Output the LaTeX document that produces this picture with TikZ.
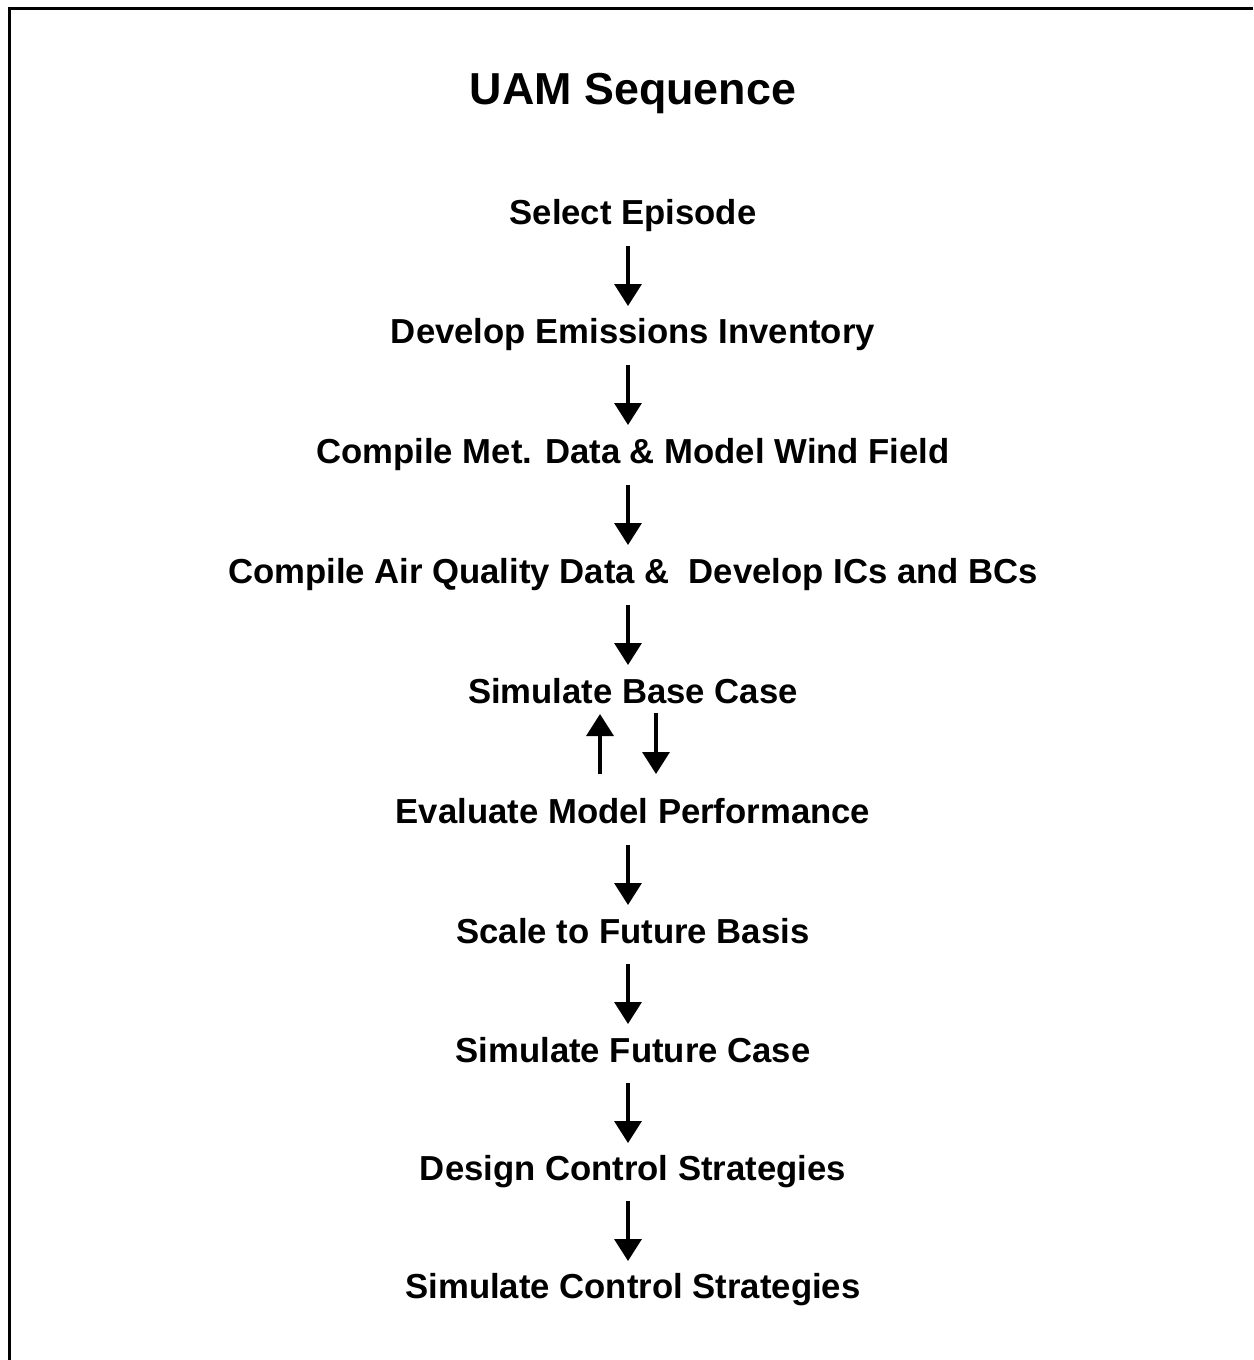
\documentclass[tikz,border=0pt]{standalone}
\usepackage{fontspec}
\setmainfont{Liberation Sans}
\usetikzlibrary{arrows.meta}
\begin{document}
\begin{tikzpicture}[x=1pt,y=-1pt,
  stepbox/.style={anchor=base,inner sep=0pt,font=\fontsize{34.7}{40}\selectfont\bfseries},
  titlebox/.style={anchor=base,inner sep=0pt,font=\fontsize{44.8}{52}\selectfont\bfseries},
  flow/.style={line width=3.5pt,-{Triangle[length=22pt,width=27pt]}}]
\useasboundingbox (0,0) rectangle (1253,1360);
\draw[line width=3pt] (1253,8) -- (9,8) -- (9,1360);
\node[titlebox] (title) at (633,104) {UAM Sequence};
\node[stepbox] (s1) at (633,224) {Select Episode};
\node[stepbox] (s2) at (633,343) {Develop Emissions Inventory};
\node[stepbox] (s3) at (633,463) {Compile Met. Data \& Model Wind Field};
\node[stepbox] (s4) at (633,583) {Compile Air Quality Data \&~ Develop ICs and BCs};
\node[stepbox] (s5) at (633,703) {Simulate Base Case};
\node[stepbox] (s6) at (633,823) {Evaluate Model Performance};
\node[stepbox] (s7) at (633,943) {Scale to Future Basis};
\node[stepbox] (s8) at (633,1062) {Simulate Future Case};
\node[stepbox] (s9) at (633,1180) {Design Control Strategies};
\node[stepbox] (s10) at (633,1298) {Simulate Control Strategies};
\coordinate (a1s) at (628,246); \coordinate (a1e) at (628,306);
\coordinate (a2s) at (628,365); \coordinate (a2e) at (628,425);
\coordinate (a3s) at (628,485); \coordinate (a3e) at (628,545);
\coordinate (a4s) at (628,605); \coordinate (a4e) at (628,665);
\coordinate (a6s) at (628,845); \coordinate (a6e) at (628,905);
\coordinate (a7s) at (628,964); \coordinate (a7e) at (628,1024);
\coordinate (a8s) at (628,1083); \coordinate (a8e) at (628,1143);
\coordinate (a9s) at (628,1201); \coordinate (a9e) at (628,1261);
\coordinate (ups) at (600,774); \coordinate (upe) at (600,714);
\coordinate (dns) at (656,713); \coordinate (dne) at (656,774);
\draw[flow] (a1s) -- (a1e);
\draw[flow] (a2s) -- (a2e);
\draw[flow] (a3s) -- (a3e);
\draw[flow] (a4s) -- (a4e);
\draw[flow] (ups) -- (upe);
\draw[flow] (dns) -- (dne);
\draw[flow] (a6s) -- (a6e);
\draw[flow] (a7s) -- (a7e);
\draw[flow] (a8s) -- (a8e);
\draw[flow] (a9s) -- (a9e);
\end{tikzpicture}
\end{document}
